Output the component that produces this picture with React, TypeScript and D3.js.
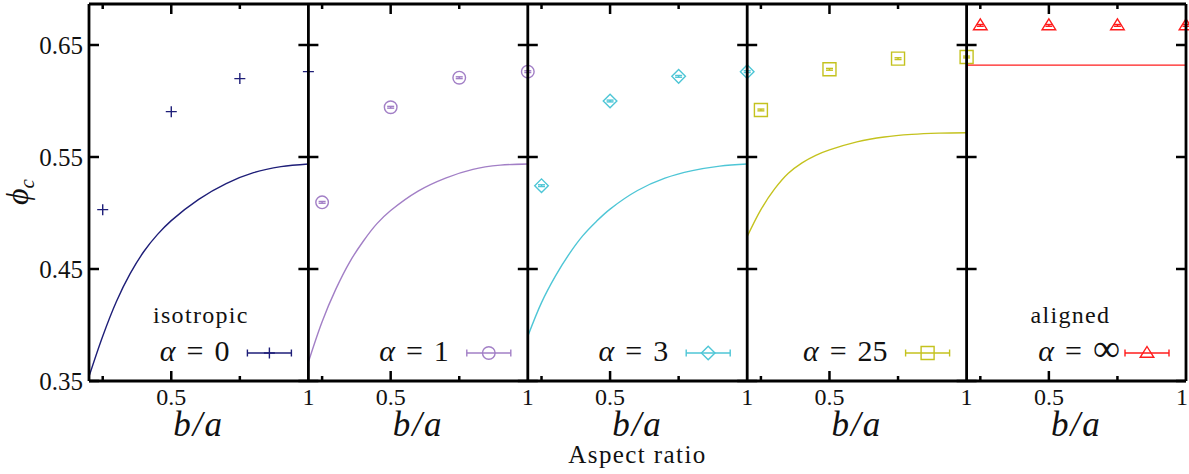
import React from 'react';
import * as d3 from 'd3';

// ---------- data ----------
const ASPECT_RATIO = [0.25, 0.5, 0.75, 1.0];
const PHI_ALPHA0 = [0.503, 0.5905, 0.62, 0.6262];
const PHI_ALPHA1 = [0.5095, 0.5944, 0.6208, 0.6262];
const PHI_ALPHA3 = [0.5244, 0.6, 0.622, 0.6262];
const PHI_ALPHA25 = [0.592, 0.6283, 0.6378, 0.6393];
const PHI_ALIGNED = [0.6675, 0.6675, 0.6675, 0.6675];
const PHI_ERROR = [0.0008, 0.0008, 0.0008, 0.0008];

const THEORY_X = [0.2, 0.25, 0.3, 0.35, 0.4, 0.45, 0.5, 0.6, 0.7, 0.8, 0.9, 1.0];
const THEORY_ALPHA0 = [0.354, 0.390, 0.421, 0.4458, 0.4656, 0.4809, 0.4932, 0.5122, 0.5263, 0.536, 0.5414, 0.5438];
const THEORY_ALPHA1 = [0.367, 0.403, 0.432, 0.456, 0.4748, 0.4905, 0.5022, 0.5196, 0.5312, 0.539, 0.5427, 0.5438];
const THEORY_ALPHA3 = [0.390, 0.420, 0.4434, 0.4631, 0.4796, 0.4925, 0.5035, 0.5201, 0.5311, 0.5378, 0.5419, 0.5438];
const THEORY_ALPHA25 = [0.479, 0.503, 0.5215, 0.5355, 0.5448, 0.5515, 0.5563, 0.5635, 0.5679, 0.5702, 0.5713, 0.5717];
const THEORY_ALIGNED_X = [0.2, 1.0];
const THEORY_ALIGNED = [0.632, 0.632];

const ALPHA_LABELS = ['0', '1', '3', '25', '∞'];
const NOTES = ['isotropic', '', '', '', 'aligned'];
const COLORS = ['#1e1e78', '#a27fc6', '#4ec6d6', '#c4c21e', '#ff1c1c'];
const MARKERS = ['plus', 'circle', 'diamond', 'square', 'triangle'];

const POINTS = [PHI_ALPHA0, PHI_ALPHA1, PHI_ALPHA3, PHI_ALPHA25, PHI_ALIGNED];
const THEORY = [
  { x: THEORY_X, y: THEORY_ALPHA0 },
  { x: THEORY_X, y: THEORY_ALPHA1 },
  { x: THEORY_X, y: THEORY_ALPHA3 },
  { x: THEORY_X, y: THEORY_ALPHA25 },
  { x: THEORY_ALIGNED_X, y: THEORY_ALIGNED },
];

const Y_TICKS = [0.35, 0.45, 0.55, 0.65];
const X_MAJOR = [0.5];
const X_MINOR = [0.25, 0.75];
const X_LABELS = [0.5, 1];

// ---------- layout ----------
const W = 1189, H = 474;
const LEFT = 89, RIGHT = 1186, TOP = 4, BOTTOM = 381;
const NP = 5;
const PW = (RIGHT - LEFT) / NP;
const FF = 'Liberation Serif';

const yScale = d3.scaleLinear().domain([0.35, 0.35 + (BOTTOM - TOP) / 1120]).range([BOTTOM, TOP]);

function T(props: any) {
  const { style, ...rest } = props;
  return <text fill="#111" {...rest} style={{ fontFamily: `'${FF}'`, ...(style || {}) }} />;
}

function markerPath(kind: string): string {
  switch (kind) {
    case 'plus': return 'M-5.5,0H5.5M0,-5.5V5.5';
    case 'circle': { const r = 6.3; return `M${r},0A${r},${r} 0 1,1 ${-r},0A${r},${r} 0 1,1 ${r},0Z`; }
    case 'diamond': { const d = 6.8; return `M0,${-d}L${d},0L0,${d}L${-d},0Z`; }
    case 'square': { const h = 6.5; return `M${-h},${-h}H${h}V${h}H${-h}Z`; }
    case 'triangle': return 'M0,-6.5L6.8,4.3L-6.8,4.3Z';
  }
  return '';
}

function Panel({ i }: { i: number }) {
  const x0 = LEFT + i * PW;
  const x1 = x0 + PW;
  const xs = d3.scaleLinear().domain([0.2, 1]).range([x0, x1]);
  const color = COLORS[i];
  const th = THEORY[i];
  const line = d3.line<number>()
    .x((_, k) => xs(th.x[k]))
    .y((v) => yScale(v))
    .curve(d3.curveCatmullRom.alpha(0.5));
  const pts = POINTS[i];
  const mk = MARKERS[i];
  const keyY = 353;
  const keyCx = x1 - 39;
  const keyHalf = 22;
  const textEnd = i === 4 ? x1 - 66 : x1 - 79;
  return (
    <g>
      {X_MAJOR.map((v) => (
        <g key={'M' + v} stroke="#000" strokeWidth={2.5}>
          <line x1={xs(v)} x2={xs(v)} y1={BOTTOM} y2={BOTTOM - 10} />
          <line x1={xs(v)} x2={xs(v)} y1={TOP} y2={TOP + 10} />
        </g>
      ))}
      {X_MINOR.map((v) => (
        <g key={'m' + v} stroke="#000" strokeWidth={2.5}>
          <line x1={xs(v)} x2={xs(v)} y1={BOTTOM} y2={BOTTOM - 5} />
          <line x1={xs(v)} x2={xs(v)} y1={TOP} y2={TOP + 5} />
        </g>
      ))}
      {Y_TICKS.map((v) => (
        <g key={'y' + v} stroke="#000" strokeWidth={2.5}>
          <line x1={x0} x2={x0 + 10} y1={yScale(v)} y2={yScale(v)} />
          <line x1={x1} x2={x1 - 10} y1={yScale(v)} y2={yScale(v)} />
        </g>
      ))}
      {X_LABELS.map((v) => (
        <T key={'l' + v} x={Math.min(xs(v), W - 7)} y={405} textAnchor="middle" fontSize={24}>
          {d3.format('')(v)}
        </T>
      ))}
      <T x={(x0 + x1) / 2} y={436} textAnchor="middle" fontSize={35} fontStyle="italic" letterSpacing={2}>
        b/a
      </T>
      <path d={line(th.y) || ''} fill="none" stroke={color} strokeWidth={1.4} />
      {pts.map((v, k) => {
        const cx = xs(ASPECT_RATIO[k]);
        const cy = yScale(v);
        const e = PHI_ERROR[k];
        return (
          <g key={k} stroke={color} fill="none" strokeWidth={1.4}>
            <path d={markerPath(mk)} transform={`translate(${cx},${cy})`} />
            {mk !== 'plus' && (
              <g>
                <line x1={cx} x2={cx} y1={yScale(v - e)} y2={yScale(v + e)} />
                <line x1={cx - 3.5} x2={cx + 3.5} y1={yScale(v - e)} y2={yScale(v - e)} />
                <line x1={cx - 3.5} x2={cx + 3.5} y1={yScale(v + e)} y2={yScale(v + e)} />
              </g>
            )}
          </g>
        );
      })}
      {NOTES[i] && (
        <T x={x0 + 64} y={323} fontSize={24} letterSpacing={1.3}>
          {NOTES[i]}
        </T>
      )}
      <T x={textEnd} y={361} textAnchor="end" fontSize={30}>
        <tspan fontStyle="italic">α</tspan>
        <tspan dx={11}>=</tspan>
        <tspan dx={11} fontSize={i === 4 ? 38 : 30}>{ALPHA_LABELS[i]}</tspan>
      </T>
      <g stroke={color} fill="none" strokeWidth={1.4}>
        <line x1={keyCx - keyHalf} x2={keyCx + keyHalf} y1={keyY} y2={keyY} />
        <line x1={keyCx - keyHalf} x2={keyCx - keyHalf} y1={keyY - 3.5} y2={keyY + 3.5} />
        <line x1={keyCx + keyHalf} x2={keyCx + keyHalf} y1={keyY - 3.5} y2={keyY + 3.5} />
        <path d={markerPath(mk)} transform={`translate(${keyCx},${keyY})`} />
      </g>
    </g>
  );
}

export default function App() {
  return (
    <svg width={W} height={H} style={{ position: 'absolute', left: 0, top: 0, fontFamily: `'${FF}'` }}>
      <rect x={0} y={0} width={W} height={H} fill="#fff" />
      {d3.range(NP).map((i) => <Panel key={i} i={i} />)}
      <g stroke="#000" strokeWidth={2.8} fill="none">
        <line x1={LEFT} x2={RIGHT} y1={TOP} y2={TOP} />
        <line x1={LEFT} x2={RIGHT} y1={BOTTOM} y2={BOTTOM} />
        {d3.range(NP + 1).map((k) => (
          <line key={k} x1={LEFT + k * PW} x2={LEFT + k * PW} y1={TOP} y2={BOTTOM} />
        ))}
      </g>
      {Y_TICKS.map((v) => (
        <T key={v} x={83} y={yScale(v)} dy="0.35em" textAnchor="end" fontSize={25}>
          {d3.format('.2f')(v)}
        </T>
      ))}
      <T transform={`translate(28,192) rotate(-90)`} textAnchor="middle" fontSize={32} fontStyle="italic">
        ϕ<tspan fontSize={21} dy={6}>c</tspan>
      </T>
      <T x={(LEFT + RIGHT) / 2} y={463} textAnchor="middle" fontSize={25} letterSpacing={1.4}>
        Aspect ratio
      </T>
    </svg>
  );
}
